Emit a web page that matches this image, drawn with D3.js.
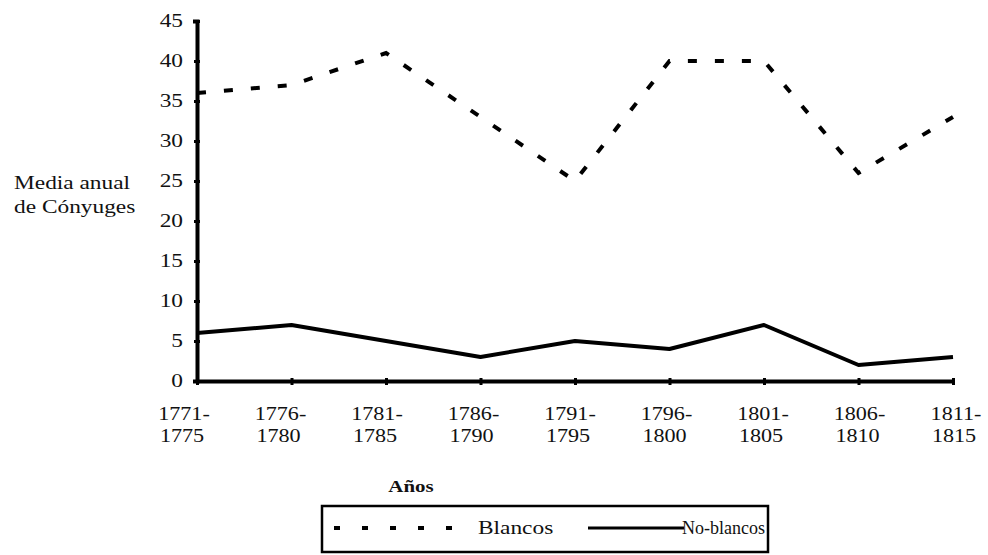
<!DOCTYPE html>
<html>
<head>
<meta charset="utf-8">
<script src="https://cdn.jsdelivr.net/npm/d3@7"></script>
<style>
  body { margin: 0; background: #fff; }
  text { font-family: "Liberation Serif", "Times New Roman", serif; }
</style>
</head>
<body>
<div id="chart"></div>
<script>
// periods on the x axis (two lines each)
var periods = ['1771-1775', '1776-1780', '1781-1785', '1786-1790', '1791-1795',
               '1796-1800', '1801-1805', '1806-1810', '1811-1815'];
var blancos = [36, 37, 41, 33, 25, 40, 40, 26, 33];
var noBlancos = [6, 7, 5, 3, 5, 4, 7, 2, 3];
var yTicks = [0, 5, 10, 15, 20, 25, 30, 35, 40, 45];

var width = 988, height = 555;
var margin = {top: 21, right: 35, bottom: 174, left: 197};
var SX = 1.23; // the scan is a bit wide, stretch text horizontally

var svg = d3.select('#chart').append('svg')
  .attr('width', width)
  .attr('height', height);

// text drawn with a horizontal stretch
function label(parent, x, y, str, anchor, size, weight, sx) {
  return parent.append('text')
    .attr('transform', 'translate(' + x + ',' + y + ') scale(' + (sx || SX) + ',1)')
    .attr('text-anchor', anchor || 'start')
    .attr('font-size', size || 19)
    .attr('font-weight', weight || 'normal')
    .attr('fill', '#111')
    .text(str);
}

var x = d3.scalePoint()
  .domain(periods)
  .range([margin.left, width - margin.right]);

// the period labels sit on a slightly wider spacing than the ticks
var xLabel = d3.scalePoint()
  .domain(periods)
  .range([margin.left - 13, width - margin.right + 3]);

var y = d3.scaleLinear()
  .domain([0, 45])
  .range([height - margin.bottom, margin.top]);

// y axis
var yAxis = svg.append('g')
  .attr('transform', 'translate(' + margin.left + ',0)')
  .call(d3.axisLeft(y).tickValues(yTicks).tickSize(4).tickFormat(''));
yAxis.select('.domain').attr('stroke', '#000').attr('stroke-width', 4);
yAxis.selectAll('.tick line').attr('stroke', '#000').attr('stroke-width', 3)
  .attr('x1', -3).attr('x2', 3);
yTicks.forEach(function(t) {
  label(svg, margin.left - 14, y(t) + 6, t, 'end', 19);
});

// x axis
var xAxis = svg.append('g')
  .attr('transform', 'translate(0,' + y(0) + ')')
  .call(d3.axisBottom(x).tickSize(4).tickSizeOuter(0).tickFormat(''));
xAxis.select('.domain').attr('stroke', '#000').attr('stroke-width', 4);
xAxis.selectAll('.tick line').attr('stroke', '#000').attr('stroke-width', 3)
  .attr('y1', -3).attr('y2', 4);

periods.forEach(function(p) {
  var parts = p.split('-');
  label(svg, xLabel(p), y(0) + 39, parts[0] + '-', 'middle', 18);
  label(svg, xLabel(p) - 2, y(0) + 61, parts[1], 'middle', 18);
});

// axis titles
label(svg, 411, 492, 'Años', 'middle', 17, 'bold');
label(svg, 14, 189, 'Media anual', 'start', 19);
label(svg, 14, 213, 'de Cónyuges', 'start', 19);

// lines
var line = d3.line()
  .x(function(d, i) { return x(periods[i]); })
  .y(function(d) { return y(d); });

svg.append('path')
  .datum(blancos)
  .attr('d', line)
  .attr('fill', 'none')
  .attr('stroke', '#000')
  .attr('stroke-width', 4)
  .attr('stroke-dasharray', '9,18');

svg.append('path')
  .datum(noBlancos)
  .attr('d', line)
  .attr('fill', 'none')
  .attr('stroke', '#000')
  .attr('stroke-width', 4)
  .attr('stroke-linejoin', 'round');

// legend
var lg = svg.append('g');
lg.append('line')
  .attr('x1', 334).attr('x2', 456).attr('y1', 528).attr('y2', 528)
  .attr('stroke', '#000').attr('stroke-width', 4)
  .attr('stroke-dasharray', '6,22');
label(lg, 478, 534, 'Blancos', 'start', 19);
lg.append('line')
  .attr('x1', 588).attr('x2', 684).attr('y1', 528).attr('y2', 528)
  .attr('stroke', '#000').attr('stroke-width', 3);
label(lg, 682, 534, 'No-blancos', 'start', 18, 'normal', 1.0);
lg.append('rect')
  .attr('x', 322).attr('y', 506)
  .attr('width', 446).attr('height', 46)
  .attr('fill', 'none')
  .attr('stroke', '#000').attr('stroke-width', 2.5);
</script>
</body>
</html>
